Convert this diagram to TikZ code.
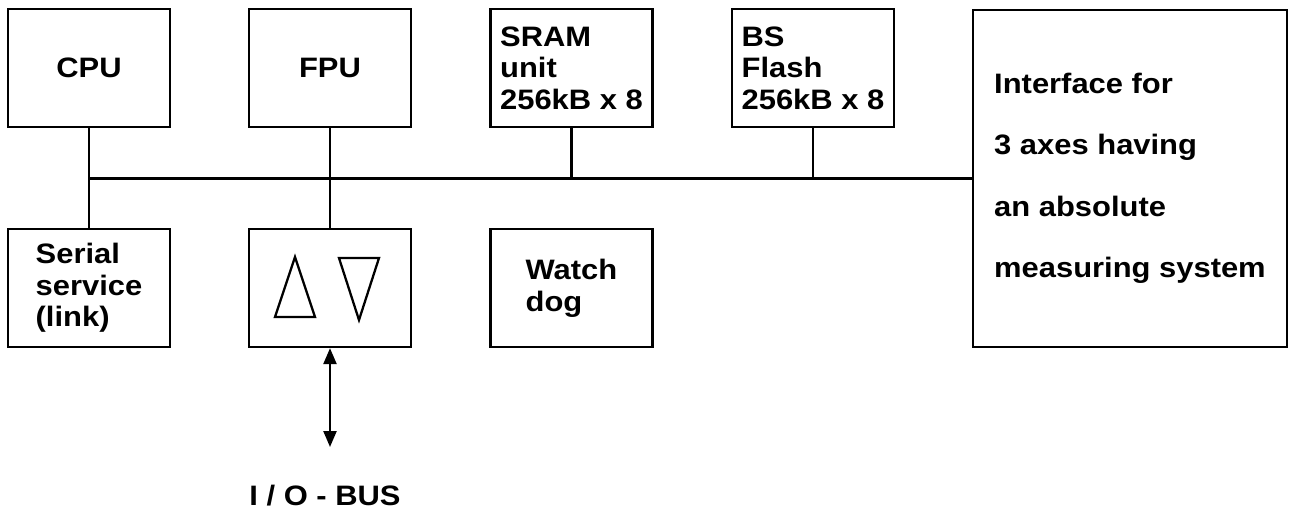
\documentclass[tikz,border=0pt]{standalone}
\usepackage{fontspec}
\setmainfont{Liberation Sans}[FakeStretch=1.1]
\usepackage{tikz}
\usetikzlibrary{arrows.meta,positioning,calc}

\begin{document}
\begin{tikzpicture}[
  x=0.02cm, y=-0.02cm,
  unit/.style={
    draw,
    rectangle,
    align=left,
    minimum width=3.24cm,
    minimum height=2.36cm,
    line width=1.3pt,
    font=\bfseries\fontsize{16}{18}\selectfont
  },
  wire/.style={line width=1.3pt},
  iolink/.style={{Triangle[length=3.2mm,width=2.6mm]}-{Triangle[length=3.2mm,width=2.6mm]}, line width=1.3pt},
  font=\bfseries\fontsize{16}{18}\selectfont
]
\useasboundingbox (0,0) rectangle (1289,515);

% Upper row
\node[unit] (cpu)     at (89,68)    {CPU};
\node[unit] (fpu)     at (330,68)   {FPU};
\node[unit] (sram)    at (571.5,68) {SRAM\\unit\\256kB x 8};
\node[unit] (bsflash) at (813,68)   {BS\\Flash\\256kB x 8};

% Axis interface
\node[unit, minimum width=6.28cm, minimum height=6.74cm,
  font=\bfseries\fontsize{16}{35}\selectfont] (interface) at (1130,178.5)
  {Interface for\\3 axes having\\an absolute\\measuring system};

% Lower row
\node[unit] (serial)   at (89,288)    {Serial\\service\\(link)};
\node[unit] (iobox)    at (330,288)   {};
\node[unit] (watchdog) at (571.5,288) {Watch\\dog};

% Driver symbols
\draw[wire] ($(iobox.center)+(-35,-31)$) -- ($(iobox.center)+(-15,29)$)
  -- ($(iobox.center)+(-55,29)$) -- cycle;
\draw[wire] ($(iobox.center)+(9,-30)$) -- ($(iobox.center)+(49,-30)$)
  -- ($(iobox.center)+(29,32)$) -- cycle;

% Bus
\draw[wire] (cpu.south) -- (serial.north);
\draw[wire] (fpu.south) -- (iobox.north);
\draw[wire] (sram.south) -- (sram.south |- interface.west);
\draw[wire] (bsflash.south) -- (bsflash.south |- interface.west);
\draw[wire] (cpu.south |- interface.west) -- (interface.west);

% I/O bus
\coordinate (busend) at (330,447);
\draw[iolink] (iobox.south) -- (busend);
\node (iolabel) at (325,496) {I / O - BUS};
\end{tikzpicture}
\end{document}
